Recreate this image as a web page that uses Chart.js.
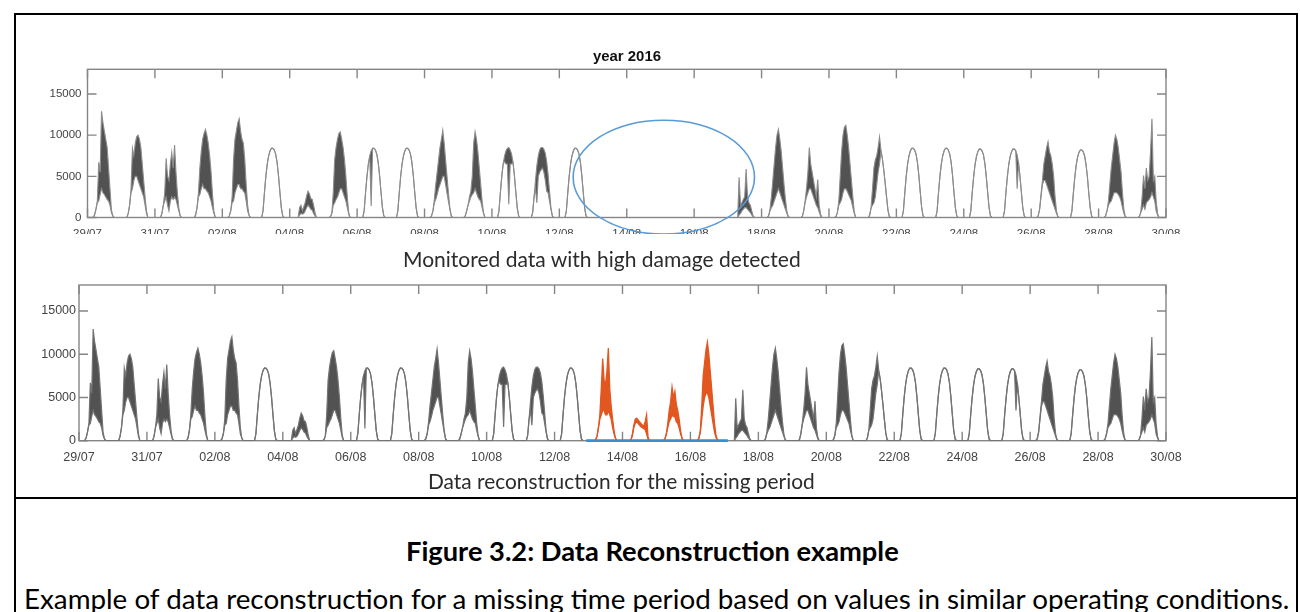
<!DOCTYPE html>
<html>
<head>
<meta charset="utf-8">
<script src="https://cdn.jsdelivr.net/npm/chart.js@4.4.1/dist/chart.umd.min.js"></script>
<style>
  html, body { margin:0; padding:0; background:#fff; }
  body { width:1300px; height:612px; position:relative; overflow:hidden; }
  .frame { position:absolute; box-sizing:border-box; border:2px solid #000; }
  canvas { position:absolute; left:0; }
  .fit { position:absolute; white-space:nowrap; line-height:1; color:#2b2b2b; font-family: Lato, 'Open Sans', sans-serif; }
</style>
</head>
<body>
<div class="frame" style="left:14px;top:13px;width:1284px;height:486px;"></div>
<div class="frame" style="left:14px;top:497px;width:1284px;height:140px;border-top:none;"></div>
<canvas id="topChart" width="1300" height="234" style="top:0"></canvas>
<canvas id="bottomChart" width="1300" height="200" style="top:270px"></canvas>
<div class="fit" data-cx="627" data-cy="57" data-w="68" style="font-family:'Liberation Sans',Arial,sans-serif;font-weight:bold;color:#111">year 2016</div>
<div class="fit" data-cx="602" data-cy="259" data-w="398">Monitored data with high damage detected</div>
<div class="fit" data-cx="621.5" data-cy="482.5" data-w="387">Data reconstruction for the missing period</div>
<div class="fit" data-cx="652.5" data-cy="551" data-w="493" style="font-weight:bold;color:#000">Figure 3.2: Data Reconstruction example</div>
<div class="fit" data-cx="657" data-cy="600" data-w="1266" style="color:#000">Example of data reconstruction for a missing time period based on values in similar operating conditions.</div>

<script>
// ---------------- DATA ----------------
// x unit: days since 29/07/2016 00:00 ; each row = one day, values at these hours
const hours = [4,5,6,7,8,9,10,11,12,13,14,15,16,17,18,19,20];
const dayTickLabels = ['29/07','31/07','02/08','04/08','06/08','08/08','10/08','12/08','14/08',
                       '16/08','18/08','20/08','22/08','24/08','26/08','28/08','30/08'];
const valueTicks = [0, 5000, 10000, 15000];

// monitored power: upper envelope per day (null = no data)
const monitoredHigh = [
  [0,300,1000,2000,6700,5500,12900,11500,10500,9500,8500,6000,3500,1000,200,0,0],
  [0,500,1500,3500,8400,7500,9000,9800,10000,9500,8500,6500,4500,2500,800,0,0],
  [0,500,1500,3000,7200,5000,4500,6500,7900,6000,8800,5500,3000,1200,200,0,0],
  [0,300,1200,3000,6000,8000,9500,10200,10700,10000,9000,7500,5500,2800,800,0,0],
  [0,200,800,2500,7000,9500,10500,11500,12000,10500,9500,9000,7000,4000,1500,300,0],
  [0,800,3000,5000,6500,7500,8100,8400,8400,8200,7700,6700,5100,3100,1200,200,0],
  [0,0,0,1200,1500,800,1300,1800,2600,3200,2900,2300,2200,1500,600,0,0],
  [0,100,500,3000,7000,8500,9500,10200,10400,9500,8500,7000,5000,2500,600,0,0],
  [0,800,3000,5000,6500,7500,8100,8400,8400,8200,7700,6700,5100,3100,1200,200,0],
  [0,800,3000,5000,6500,7500,8100,8400,8400,8200,7700,6700,5100,3100,1200,200,0],
  [0,200,800,2200,4000,5500,7000,8500,9500,10600,9000,7000,5000,3000,1200,200,0],
  [0,200,800,1500,2500,3200,5000,9000,10400,9500,8000,6000,4000,2000,600,0,0],
  [0,800,3000,5000,6500,7500,8100,8400,8500,8200,7700,6700,5100,3100,1200,200,0],
  [0,600,2500,4500,6300,7500,8200,8500,8500,8300,7800,6800,5200,3200,1200,200,0],
  [0,800,3000,5000,6500,7500,8100,8400,8400,8200,7700,6700,5100,3100,1200,200,0],
  null, null, null, null,
  [null,null,null,0,4900,1500,1800,2200,2500,5900,2500,1800,1500,800,200,0,0],
  [0,200,1000,2500,4500,6500,8500,10000,10700,9500,8000,6000,4000,2200,800,100,0],
  [0,100,800,2000,3500,5500,8500,6500,5500,4500,3500,2500,4600,1500,400,0,0],
  [0,100,600,2000,5000,8000,10000,11000,11200,10000,8500,6500,4500,2500,700,0,0],
  [0,300,1200,3500,6000,7000,7500,8500,9800,8200,7200,5800,4200,2500,900,100,0],
  [0,800,3000,5000,6500,7500,8100,8400,8400,8200,7700,6700,5100,3100,1200,200,0],
  [0,800,3000,5000,6500,7500,8100,8400,8400,8200,7700,6700,5100,3100,1200,200,0],
  [0,800,3000,4900,6400,7400,8000,8300,8300,8100,7600,6600,5000,3100,1200,200,0],
  [0,800,3000,4900,6400,7400,8000,8300,8300,8100,7600,6600,5000,3100,1200,200,0],
  [0,200,1000,2800,4500,6500,7500,8500,9200,8000,7500,6500,5000,2500,800,100,0],
  [0,800,2900,4800,6300,7300,7900,8200,8200,8000,7500,6500,5000,3000,1200,200,0],
  [0,200,800,2000,4000,6000,7500,9000,10000,9500,8500,7000,5500,3000,1000,100,0],
  [0,100,600,2500,5100,3500,6000,4500,5000,8000,12000,4500,5000,2000,500,0,0]
];

// monitored power: lower envelope per day (null = same as upper envelope)
const monitoredLow = [
  [0,300,1000,1800,2000,2800,3500,3000,2800,2500,2200,2000,1500,600,200,0,0],
  [0,500,1500,3000,3500,4500,5000,5000,4500,4000,3500,3000,2500,1500,500,0,0],
  [0,500,1500,2000,2500,1500,800,2000,2500,2200,2500,2200,1500,800,200,0,0],
  [0,300,1200,2500,2800,3500,4000,3500,3500,3200,3000,2500,2000,1200,500,0,0],
  [0,200,800,1800,2000,3000,3500,4000,4000,3500,3500,3200,3000,2000,800,300,0],
  null,
  [0,0,0,300,500,400,500,800,1200,1500,1300,1000,900,500,200,0,0],
  [0,100,500,1500,1800,2200,2500,3000,3500,3500,3000,2500,2000,1200,400,0,0],
  [0,800,3000,5000,6500,7500,1400,8400,8400,8200,7700,6700,5100,3100,1200,200,0],
  null,
  [0,200,800,1800,2200,2800,3500,4000,4500,5000,5000,4000,3000,2000,1000,200,0],
  [0,200,800,1500,2000,2500,2800,3000,3500,3000,2500,2200,2000,1200,500,0,0],
  [0,800,3000,5000,6500,6800,6500,6500,1600,6500,6500,6700,5100,3100,1200,200,0],
  [0,600,2500,3500,1800,5000,5500,5800,6000,5500,4500,3200,3000,2000,1000,200,0],
  null,
  null, null, null, null,
  [null,null,null,0,300,500,800,1000,1200,1200,1000,800,600,300,100,0,0],
  [0,200,800,1200,1500,2000,2500,3000,3500,3000,2500,2000,1500,1000,500,100,0],
  [0,100,800,1800,2500,3000,3500,3500,3000,2500,2000,1500,1200,700,200,0,0],
  [0,100,600,1500,1800,2200,3000,3500,3500,3200,2800,2400,2000,1200,500,0,0],
  [0,300,1200,1500,1800,2500,4000,5500,6500,8000,7200,5800,4200,2500,900,100,0],
  null, null, null,
  [0,800,3000,4900,6400,7400,8000,8300,8300,8100,3500,6600,5000,3100,1200,200,0],
  [0,200,1000,2500,4000,4500,4500,4000,3500,3000,2500,2000,1500,1000,500,100,0],
  null,
  [0,200,800,1500,1800,2000,2500,3000,3000,3000,2800,2500,2000,1200,500,100,0],
  [0,100,600,1000,1500,1000,1800,2000,2200,2500,3000,2500,2000,800,300,0,0]
];

// reconstructed days 13/08 .. 16/08 (day index 15..18)
const reconstructedFirstDay = 15;
const reconstructedHigh = [
  [0,100,500,1500,3000,6000,9500,7000,6500,8000,10700,6000,4000,2500,1200,300,0],
  [0,0,100,800,1800,2500,2600,2400,2200,2000,1800,1700,2200,3000,500,0,0],
  [0,0,200,800,2000,3500,4500,6200,5000,5700,4200,3500,2500,1200,300,0,0],
  [0,0,300,1200,4000,7500,9000,10500,11400,10000,8000,6000,4000,2000,700,100,0]
];
const reconstructedLow = [
  [0,100,500,1500,2500,3000,3500,3500,3000,3000,3500,3000,2500,1500,800,300,0],
  [0,0,100,600,1500,2000,2200,2000,1800,1600,1500,1400,1300,800,200,0,0],
  [0,0,200,800,1500,2200,2500,3000,2800,2800,2200,2000,1500,800,300,0,0],
  [0,0,300,1000,2500,4000,5000,5500,5500,5000,4000,3000,2000,1000,400,100,0]
];

// missing period (days since 29/07) shown as the blue zero line
const missingPeriod = [14.93, 19.1];
// ellipse marking the damaged period: centre [day, value], radii [days, value]
const damageMarkCenter = [17.1, 4900];
const damageMarkRadius = [2.69, 6920];

// ---------------- STYLE ----------------
const fillGrey = '#525252';
const orange = '#e2561f';
const blue = '#3b8ed0';
const axisColor = '#858585';
const labelColor = '#444444';

function toPoints(rows, firstDay) {
  const pts = [];
  rows.forEach((row, k) => {
    const d = firstDay + k;
    if (!row) { pts.push({x: d + 0.5, y: null}); return; }
    row.forEach((v, i) => pts.push({x: d + hours[i] / 24, y: v}));
  });
  return pts;
}
const lowRows = monitoredLow.map((r, i) => r || monitoredHigh[i]);

function lineDs(data, color, extra) {
  return Object.assign({data, borderColor: color, borderWidth: 1.2, pointRadius: 0,
    tension: 0, fill: false, spanGaps: false}, extra || {});
}

const framePlugin = {
  id: 'matlabFrame',
  beforeDatasetsDraw(chart) {
    const {ctx, chartArea: a, scales: {x, y}} = chart;
    const L = 9;
    ctx.save();
    ctx.strokeStyle = axisColor;
    ctx.lineWidth = 1.4;
    ctx.strokeRect(a.left, a.top, a.right - a.left, a.bottom - a.top);
    ctx.beginPath();
    x.ticks.forEach(t => {
      const px = x.getPixelForValue(t.value);
      ctx.moveTo(px, a.bottom); ctx.lineTo(px, a.bottom - L);
      ctx.moveTo(px, a.top); ctx.lineTo(px, a.top + L);
    });
    y.ticks.forEach(t => {
      const py = y.getPixelForValue(t.value);
      ctx.moveTo(a.left, py); ctx.lineTo(a.left + L, py);
      ctx.moveTo(a.right, py); ctx.lineTo(a.right - L, py);
    });
    ctx.stroke();
    ctx.restore();
  }
};

const ellipsePlugin = {
  id: 'damageEllipse',
  afterDraw(chart) {
    const {ctx, scales: {x, y}} = chart;
    const cx = x.getPixelForValue(damageMarkCenter[0]);
    const cy = y.getPixelForValue(damageMarkCenter[1]);
    const rx = Math.abs(x.getPixelForValue(damageMarkCenter[0] + damageMarkRadius[0]) - cx);
    const ry = Math.abs(y.getPixelForValue(damageMarkCenter[1] + damageMarkRadius[1]) - cy);
    ctx.save();
    ctx.strokeStyle = '#5b9bd5';
    ctx.lineWidth = 1.6;
    ctx.beginPath();
    ctx.ellipse(cx, cy, rx, ry, 0, 0, Math.PI * 2);
    ctx.stroke();
    ctx.restore();
  }
};

function scalesFor(cfg) {
  return {
    x: {
      type: 'linear', min: 0, max: 32,
      grid: {display: false, drawTicks: false}, border: {display: false},
      afterBuildTicks: s => { s.ticks = dayTickLabels.map((_, i) => ({value: 2 * i})); },
      ticks: {autoSkip: false, maxRotation: 0, padding: cfg.xPad, color: labelColor,
              font: {family: "'Liberation Sans', Arial, sans-serif", size: cfg.fs},
              callback: v => dayTickLabels[Math.round(v / 2)]},
      afterFit: s => { s.height = cfg.xH; }
    },
    y: {
      min: 0, max: 18000,
      grid: {display: false, drawTicks: false}, border: {display: false},
      afterBuildTicks: s => { s.ticks = valueTicks.map(v => ({value: v})); },
      ticks: {padding: cfg.yPad, color: labelColor,
              font: {family: "'Liberation Sans', Arial, sans-serif", size: cfg.fs},
              callback: v => String(v)},
      afterFit: s => { s.width = cfg.yW; }
    }
  };
}

const common = {
  responsive: false, maintainAspectRatio: false, animation: false, devicePixelRatio: 1,
  plugins: {legend: {display: false}, tooltip: {enabled: false}, title: {display: false}}
};

new Chart(document.getElementById('topChart'), {
  type: 'line',
  data: {datasets: [
    lineDs(toPoints(monitoredHigh, 0), '#8c8c8c', {borderWidth: 1.1}),
    lineDs(toPoints(lowRows, 0), '#8c8c8c', {borderWidth: 1.1, fill: '-1', backgroundColor: fillGrey})
  ]},
  options: Object.assign({}, common, {
    layout: {padding: {top: 69.3, right: 134, left: 0, bottom: 0}},
    scales: scalesFor({fs: 11.5, xPad: 9, yPad: 6, yW: 87.5, xH: 234 - 217.5})
  }),
  plugins: [framePlugin, ellipsePlugin]
});

new Chart(document.getElementById('bottomChart'), {
  type: 'line',
  data: {datasets: [
    lineDs(missingPeriod.map(d => ({x: d, y: 0})), blue, {borderWidth: 2.8, clip: false}),
    lineDs(toPoints(reconstructedHigh, reconstructedFirstDay), orange, {borderWidth: 1.3}),
    lineDs(toPoints(reconstructedLow, reconstructedFirstDay), orange, {borderWidth: 1.3, fill: '-1', backgroundColor: orange}),
    lineDs(toPoints(monitoredHigh, 0), '#737373'),
    lineDs(toPoints(lowRows, 0), '#737373', {fill: '-1', backgroundColor: fillGrey})
  ]},
  options: Object.assign({}, common, {
    layout: {padding: {top: 15, right: 134, left: 0, bottom: 0}},
    scales: scalesFor({fs: 12.5, xPad: 9, yPad: 3, yW: 79, xH: 200 - 170.7})
  }),
  plugins: [framePlugin]
});

// fit HTML texts to the reference widths
document.querySelectorAll('.fit').forEach(el => {
  const w = +el.dataset.w, cx = +el.dataset.cx, cy = +el.dataset.cy;
  el.style.fontSize = '20px';
  const m = el.getBoundingClientRect().width;
  const fs = 20 * w / m;
  el.style.fontSize = fs + 'px';
  el.style.left = (cx - w / 2) + 'px';
  el.style.top = (cy - fs * 0.53) + 'px';
});
</script>
</body>
</html>
